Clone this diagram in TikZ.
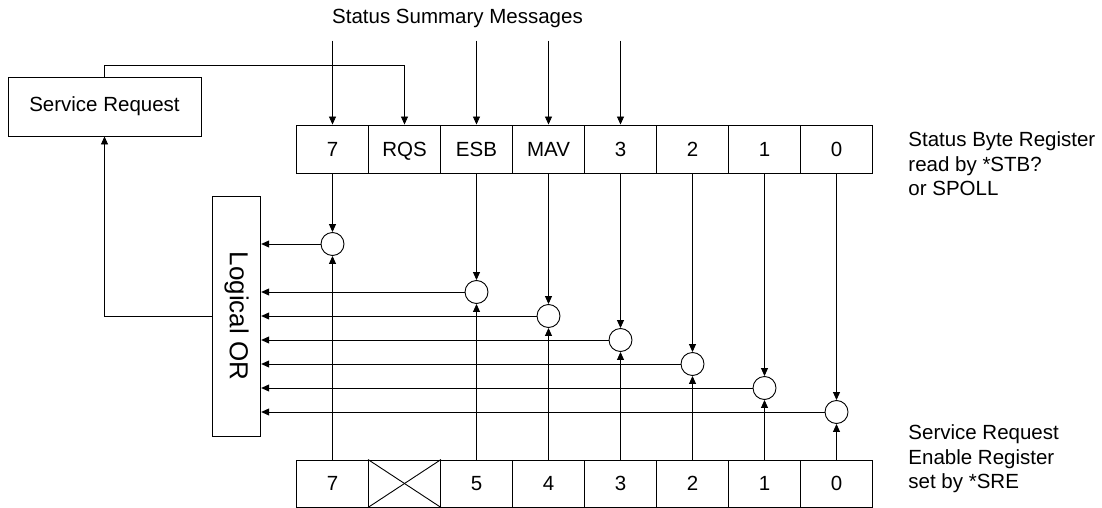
\documentclass[tikz,border=0pt]{standalone}
\usepackage{fontspec}
\usepackage{graphicx}
\setmainfont{Liberation Sans}
\usetikzlibrary{arrows.meta}
\begin{document}
\begin{tikzpicture}[x=1pt,y=-1pt,
  line width=0.9pt,
  every node/.style={font=\fontsize{20.5}{24.5}\selectfont},
  cell/.style={draw, minimum width=72pt, minimum height=48pt, inner sep=0pt, text height=14.7pt, text depth=0pt},
  lcell/.style={draw, minimum width=72pt, minimum height=47pt, inner sep=0pt, text height=14.7pt, text depth=0pt},
  gate/.style={draw, circle, minimum size=23pt, inner sep=0pt},
  arr/.style={-{Triangle[length=8pt,width=7pt]}},
  lbl/.style={align=left, anchor=west, inner sep=0pt}
]
\useasboundingbox[fill=white] (0,0) rectangle (1102,508);

% title
\node (ssm) at (457.5,18) {Status Summary Messages};

% service request box
\node[draw, minimum width=193pt, minimum height=59pt, inner sep=0pt] (sr) at (104.5,106.5) {Service Request};

% logical OR box
\node[draw, minimum width=48.5pt, minimum height=240pt, inner sep=0pt] (or) at (236.5,316)
  {\rotatebox{-90}{\fontsize{26}{30}\selectfont Logical OR}};

% status byte register
\node[cell] (u7)   at (332.5,149) {7};
\node[cell] (urqs) at (404.5,149) {RQS};
\node[cell] (uesb) at (476.5,149) {ESB};
\node[cell] (umav) at (548.5,149) {MAV};
\node[cell] (u3)   at (620.5,149) {3};
\node[cell] (u2)   at (692.5,149) {2};
\node[cell] (u1)   at (764.5,149) {1};
\node[cell] (u0)   at (836.5,149) {0};

% enable register
\node[lcell] (l7) at (332.5,483.5) {7};
\node[lcell] (lx) at (404.5,483.5) {};
\node[lcell] (l5) at (476.5,483.5) {5};
\node[lcell] (l4) at (548.5,483.5) {4};
\node[lcell] (l3) at (620.5,483.5) {3};
\node[lcell] (l2) at (692.5,483.5) {2};
\node[lcell] (l1) at (764.5,483.5) {1};
\node[lcell] (l0) at (836.5,483.5) {0};
\draw (lx.north west) -- (lx.south east);
\draw (lx.south west) -- (lx.north east);

% gates
\node[gate] (c7) at (332.5,244) {};
\node[gate] (c5) at (476.5,292) {};
\node[gate] (c4) at (548.5,316) {};
\node[gate] (c3) at (620.5,340) {};
\node[gate] (c2) at (692.5,364) {};
\node[gate] (c1) at (764.5,388) {};
\node[gate] (c0) at (836.5,412) {};

% side labels
\node[lbl] (sbr) at (908,164) {Status Byte Register\\read by *STB?\\or SPOLL};
\node[lbl] (sre) at (908,459) {Service Request\\Enable Register\\set by *SRE};

% summary message inputs
\coordinate (t7) at (332.5,40.7);
\coordinate (tesb) at (476.5,40.7);
\coordinate (tmav) at (548.5,40.7);
\coordinate (t3) at (620.5,40.7);
\draw[arr] (t7) -- (u7.north);
\draw[arr] (tesb) -- (uesb.north);
\draw[arr] (tmav) -- (umav.north);
\draw[arr] (t3) -- (u3.north);

% service request to RQS
\draw[arr] (sr.north) -- ++(0,-11.5) -| (urqs.north);

% register bits to gates
\foreach \u/\c in {u7/c7, uesb/c5, umav/c4, u3/c3, u2/c2, u1/c1, u0/c0}{
  \draw[arr] (\u.south) -- (\c.north);
}
\foreach \l/\c in {l7/c7, l5/c5, l4/c4, l3/c3, l2/c2, l1/c1, l0/c0}{
  \draw[arr] (\l.north) -- (\c.south);
}
% gates to OR
\foreach \c in {c7, c5, c4, c3, c2, c1, c0}{
  \draw[arr] (\c.west) -- (\c.west -| or.east);
}
% OR to service request
\draw[arr] (or.west |- c4) -| (sr.south);
\end{tikzpicture}
\end{document}
